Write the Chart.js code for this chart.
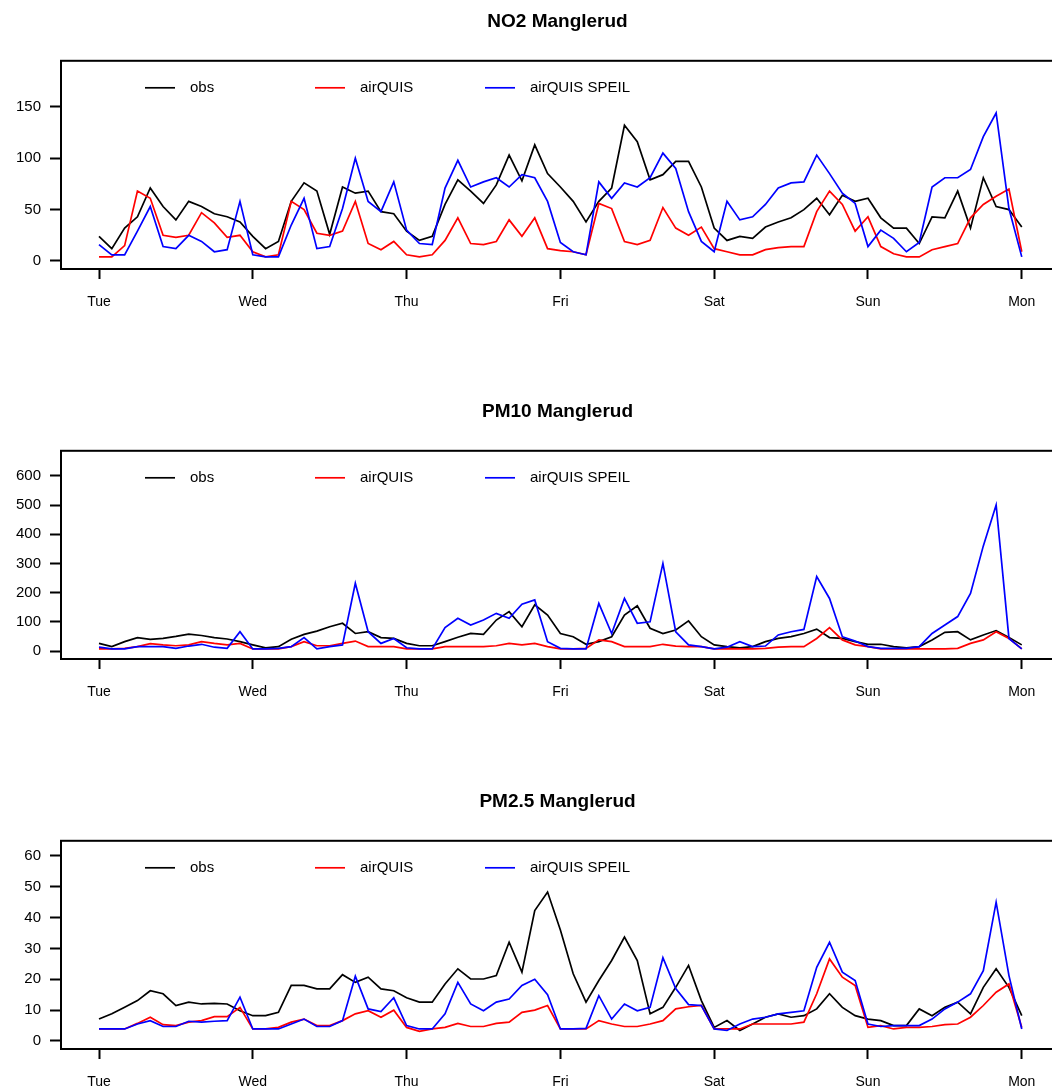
<!DOCTYPE html>
<html>
<head>
<meta charset="utf-8">
<title>Manglerud</title>
<script src="https://cdn.jsdelivr.net/npm/chart.js@4.4.1/dist/chart.umd.min.js"></script>
<style>
    html, body { margin: 0; padding: 0; background: #fff; overflow: hidden; }
    .panel { position: absolute; left: 0; width: 1062px; height: 390px; }
</style>
</head>
<body>
<div class="panel" style="top:0px"><canvas id="no2Chart" width="1062" height="390"></canvas></div>
<div class="panel" style="top:390px"><canvas id="pm10Chart" width="1062" height="390"></canvas></div>
<div class="panel" style="top:780px"><canvas id="pm25Chart" width="1062" height="390"></canvas></div>
<script>
// hours since Tuesday 00:00, every second hour
const hours = [
    0, 2, 4, 6, 8, 10, 12, 14, 16, 18, 20, 22,
    24, 26, 28, 30, 32, 34, 36, 38, 40, 42, 44, 46,
    48, 50, 52, 54, 56, 58, 60, 62, 64, 66, 68, 70,
    72, 74, 76, 78, 80, 82, 84, 86, 88, 90, 92, 94,
    96, 98, 100, 102, 104, 106, 108, 110, 112, 114, 116, 118,
    120, 122, 124, 126, 128, 130, 132, 134, 136, 138, 140, 142,
    144
];
const days = ['Tue', 'Wed', 'Thu', 'Fri', 'Sat', 'Sun', 'Mon'];
const seriesNames = ['obs', 'airQUIS', 'airQUIS SPEIL'];

// NO2
const no2Obs = [
    24, 12, 32, 43, 71, 53, 40, 58, 53, 46, 43, 38,
    24, 12, 19, 58, 76, 68, 26, 72, 66, 68, 48, 46,
    29, 20, 24, 55, 79, 68, 56, 74, 103, 78, 113, 85,
    72, 58, 38, 58, 71, 132, 116, 79, 84, 97, 97, 72,
    32, 20, 24, 22, 33, 38, 42, 50, 61, 45, 64, 58,
    61, 42, 32, 32, 17, 43, 42, 68, 32, 81, 53, 50,
    33
];
const no2Air = [
    4, 4, 15, 68, 61, 25, 23, 25, 47, 37, 23, 25,
    9, 4, 6, 58, 50, 27, 25, 29, 58, 17, 11, 19,
    6, 4, 6, 20, 42, 17, 16, 19, 40, 24, 42, 12,
    10, 9, 6, 56, 51, 19, 16, 20, 52, 32, 25, 33,
    12, 9, 6, 6, 11, 13, 14, 14, 48, 68, 55, 29,
    43, 14, 7, 4, 4, 11, 14, 17, 42, 55, 63, 70,
    9
];
const no2Speil = [
    16, 6, 6, 29, 53, 14, 12, 25, 19, 9, 11, 58,
    6, 4, 4, 35, 61, 12, 14, 51, 100, 58, 48, 77,
    30, 17, 16, 71, 98, 72, 77, 81, 72, 84, 81, 58,
    18, 9, 6, 77, 61, 76, 72, 81, 105, 90, 48, 19,
    9, 58, 40, 43, 55, 71, 76, 77, 103, 85, 66, 56,
    14, 30, 22, 9, 18, 72, 81, 81, 89, 121, 144, 51,
    4
];
const no2Ticks = [0, 50, 100, 150];

// PM10
const pm10Obs = [
    26, 15, 32, 46, 40, 43, 50, 58, 53, 46, 41, 32,
    21, 11, 15, 40, 57, 68, 83, 95, 60, 66, 46, 43,
    26, 18, 18, 32, 47, 60, 57, 106, 135, 83, 158, 123,
    60, 49, 23, 32, 49, 123, 155, 78, 60, 72, 103, 49,
    21, 15, 11, 15, 32, 43, 49, 60, 75, 46, 43, 32,
    23, 23, 15, 11, 15, 38, 64, 66, 38, 55, 70, 46,
    21
];
const pm10Air = [
    7, 7, 9, 15, 25, 21, 18, 21, 32, 26, 21, 26,
    7, 7, 7, 15, 32, 18, 18, 26, 34, 15, 15, 15,
    7, 7, 7, 15, 15, 15, 15, 18, 26, 21, 26, 15,
    7, 7, 9, 38, 32, 15, 15, 15, 23, 17, 15, 15,
    7, 7, 7, 7, 9, 13, 15, 15, 43, 80, 38, 21,
    15, 7, 7, 7, 7, 7, 7, 9, 26, 38, 66, 43,
    7
];
const pm10Speil = [
    13, 7, 7, 15, 15, 15, 9, 17, 23, 13, 9, 66,
    7, 7, 9, 15, 46, 7, 15, 21, 232, 66, 26, 43,
    11, 7, 7, 80, 112, 89, 106, 129, 112, 160, 175, 32,
    9, 7, 7, 163, 60, 180, 95, 100, 300, 66, 21, 15,
    7, 13, 32, 15, 17, 55, 66, 74, 255, 180, 49, 34,
    15, 9, 9, 9, 15, 60, 89, 118, 197, 360, 500, 43,
    7
];
const pm10Ticks = [0, 100, 200, 300, 400, 500, 600];

// PM2.5
const pm25Obs = [
    7.1, 8.8, 10.9, 13.1, 16.3, 15.3, 11.5, 12.6, 12.0, 12.2, 12.0, 9.8,
    8.2, 8.2, 9.3, 18.0, 18.0, 16.9, 16.9, 21.5, 19.0, 20.7, 16.9, 16.3,
    14.0, 12.6, 12.6, 18.5, 23.4, 20.1, 20.1, 21.2, 32.0, 22.3, 42.3, 48.3,
    36.0, 21.8, 12.6, 19.6, 26.1, 33.7, 26.1, 8.8, 10.9, 17.4, 24.5, 13.1,
    4.4, 6.6, 3.4, 5.5, 7.7, 8.8, 7.7, 8.2, 10.4, 15.3, 10.9, 8.2,
    7.1, 6.6, 5.0, 5.0, 10.4, 8.2, 10.9, 12.6, 8.8, 17.4, 23.4, 17.4,
    8.2
];
const pm25Air = [
    3.9, 3.9, 3.9, 5.7, 7.7, 5.3, 5.0, 6.1, 6.6, 7.9, 7.9, 10.9,
    3.9, 3.9, 4.4, 6.1, 7.1, 5.0, 5.0, 6.6, 8.8, 9.8, 7.7, 10.0,
    4.4, 3.1, 3.9, 4.4, 5.7, 4.7, 4.7, 5.7, 6.1, 9.3, 10.0, 11.5,
    3.9, 3.9, 3.9, 6.6, 5.5, 4.7, 4.7, 5.5, 6.6, 10.4, 11.1, 11.5,
    3.9, 3.9, 3.9, 5.5, 5.5, 5.5, 5.5, 6.1, 15.3, 26.6, 20.7, 18.0,
    4.4, 5.0, 3.9, 4.4, 4.4, 4.7, 5.3, 5.5, 7.7, 11.5, 15.8, 18.5,
    4.4
];
const pm25Speil = [
    3.9, 3.9, 3.9, 5.5, 6.6, 4.7, 4.7, 6.4, 6.1, 6.4, 6.6, 14.2,
    3.9, 3.9, 3.9, 5.5, 7.1, 4.7, 4.7, 6.6, 21.0, 10.4, 9.5, 14.0,
    5.0, 3.9, 3.9, 8.8, 19.0, 12.0, 9.8, 12.6, 13.6, 18.0, 20.0, 15.0,
    3.9, 3.9, 4.1, 14.7, 7.1, 12.0, 9.8, 10.9, 27.0, 17.0, 11.8, 11.5,
    3.9, 3.4, 5.5, 7.1, 7.7, 8.8, 9.3, 9.8, 23.9, 32.0, 22.3, 19.6,
    5.5, 4.7, 5.0, 5.0, 5.0, 7.1, 10.4, 12.6, 15.3, 22.8, 45.0, 21.2,
    3.9
];
const pm25Ticks = [0, 10, 20, 30, 40, 50, 60];

const seriesColors = ['#000000', '#ff0000', '#0000ff'];
const FONT = '"Liberation Sans", Arial, Helvetica, sans-serif';

// box round the plot + legend drawn inside it (like the R plot)
const framePlugin = {
    id: 'frame',
    afterDraw(chart) {
        const ctx = chart.ctx;
        const a = chart.chartArea;
        ctx.save();
        ctx.strokeStyle = '#000';
        ctx.lineWidth = 2;
        ctx.strokeRect(a.left, a.top, a.right - a.left, a.bottom - a.top);

        ctx.font = '15px ' + FONT;
        ctx.textBaseline = 'middle';
        ctx.textAlign = 'left';
        chart.data.datasets.forEach((ds, i) => {
            const x = a.left + 84 + i * 170;
            const y = a.top + 27;
            ctx.strokeStyle = ds.borderColor;
            ctx.lineWidth = 1.7;
            ctx.beginPath();
            ctx.moveTo(x, y);
            ctx.lineTo(x + 30, y);
            ctx.stroke();
            ctx.fillStyle = '#000';
            ctx.fillText(ds.label, x + 45, y);
        });
        ctx.restore();
    }
};

function toPoints(values) {
    return hours.map((h, i) => ({x: h, y: values[i]}));
}

function makePanel(canvasId, title, series, yTicks, yMin, yMax) {
    const ctx = document.getElementById(canvasId).getContext('2d');
    new Chart(ctx, {
        type: 'line',
        data: {
            datasets: series.map((values, i) => ({
                label: seriesNames[i],
                data: toPoints(values),
                borderColor: seriesColors[i],
                backgroundColor: seriesColors[i],
                borderWidth: 1.7,
                pointRadius: 0,
                tension: 0,
                fill: false,
                order: 2 - i
            }))
        },
        options: {
            responsive: false,
            animation: false,
            layout: { padding: { left: 0, right: 8, top: 0, bottom: 0 } },
            plugins: {
                legend: { display: false },
                tooltip: { enabled: false },
                title: {
                    display: true,
                    text: title,
                    fullSize: false,
                    color: '#000',
                    font: { family: FONT, size: 19, weight: 'bold', lineHeight: 1.2 },
                    padding: { top: 10, bottom: 28 }
                }
            },
            scales: {
                x: {
                    type: 'linear',
                    min: -5.93,
                    max: 149.03,
                    afterBuildTicks: scale => {
                        scale.ticks = days.map((d, i) => ({value: i * 24}));
                    },
                    afterFit: scale => { scale.height = 121; },
                    grid: {
                        drawOnChartArea: false,
                        tickLength: 10,
                        tickWidth: 2,
                        tickColor: '#000'
                    },
                    border: { display: false },
                    ticks: {
                        autoSkip: false,
                        maxRotation: 0,
                        padding: 15,
                        color: '#000',
                        font: { family: FONT, size: 14 },
                        callback: value => days[Math.round(value / 24)]
                    }
                },
                y: {
                    min: yMin,
                    max: yMax,
                    afterBuildTicks: scale => {
                        scale.ticks = yTicks.map(v => ({value: v}));
                    },
                    afterFit: scale => { scale.width = 61; },
                    grid: {
                        drawOnChartArea: false,
                        tickLength: 11,
                        tickWidth: 2,
                        tickColor: '#000'
                    },
                    border: { display: false },
                    ticks: {
                        padding: 9,
                        color: '#000',
                        font: { family: FONT, size: 15 }
                    }
                }
            }
        },
        plugins: [framePlugin]
    });
}

document.addEventListener("DOMContentLoaded", function () {
    makePanel('no2Chart', 'NO2 Manglerud', [no2Obs, no2Air, no2Speil], no2Ticks, -7.8, 194.8);
    makePanel('pm10Chart', 'PM10 Manglerud', [pm10Obs, pm10Air, pm10Speil], pm10Ticks, -27.4, 685.7);
    makePanel('pm25Chart', 'PM2.5 Manglerud', [pm25Obs, pm25Air, pm25Speil], pm25Ticks, -2.6, 64.9);
});
</script>
</body>
</html>
